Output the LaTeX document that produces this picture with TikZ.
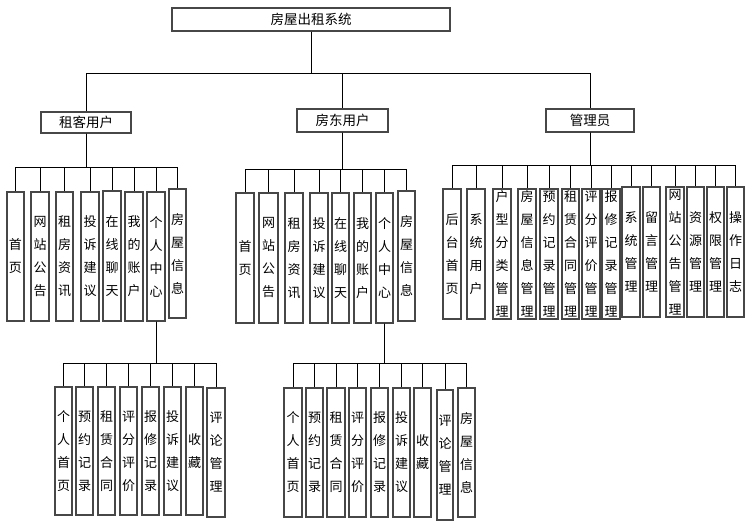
\documentclass[tikz,border=0pt]{standalone}
\usepackage{fontspec}
\newfontfamily\cjk{Noto Sans CJK SC}
\tikzset{
  vb/.style={draw=black!72, line width=1.2pt, fill=white, inner sep=0pt, align=center,
    font=\cjk\fontsize{13}{23}\selectfont},
  hb/.style={draw=black!72, line width=1.2pt, fill=white, inner sep=0pt,
    font=\cjk\fontsize{13.5}{16}\selectfont},
  conn/.style={draw=black, line width=0.9pt}
}
\newcommand{\bx}[7][vb]{\node[#1, minimum width={#4-#3}, minimum height={#6-#5}] (#2) at ({(#3+#4)/2},{(#5+#6)/2}) {#7};}
\begin{document}
\begin{tikzpicture}[x=1pt,y=-1pt]
\useasboundingbox (0,0) rectangle (752,527);
% top and level 2
\bx[hb]{top}{172}{450}{8}{31}{房屋出租系统}
\bx[hb]{ten}{41}{131}{112}{133}{租客用户}
\bx[hb]{lan}{297}{388}{109}{132}{房东用户}
\bx[hb]{adm}{546}{634}{109}{132}{管理员}
% tenant group
\bx{L1}{7}{24}{192}{321}{首\\页}
\bx{L2}{31}{49}{192}{321}{网\\站\\公\\告}
\bx{L3}{56}{73}{192}{321}{租\\房\\资\\讯}
\bx{L4}{81}{99}{192}{321}{投\\诉\\建\\议}
\bx{L5}{103}{121}{191}{321}{在\\线\\聊\\天}
\bx{L6}{125}{143}{192}{321}{我\\的\\账\\户}
\bx{L7}{147}{165}{192}{321}{个\\人\\中\\心}
\bx{L8}{169}{186}{189}{318}{房\\屋\\信\\息}
% landlord group
\bx{M1}{236}{254}{193}{323}{首\\页}
\bx{M2}{259}{278}{193}{323}{网\\站\\公\\告}
\bx{M3}{285}{303}{193}{323}{租\\房\\资\\讯}
\bx{M4}{310}{328}{193}{323}{投\\诉\\建\\议}
\bx{M5}{332}{349}{193}{323}{在\\线\\聊\\天}
\bx{M6}{354}{371}{193}{323}{我\\的\\账\\户}
\bx{M7}{376}{393}{193}{323}{个\\人\\中\\心}
\bx{M8}{398}{415}{191}{321}{房\\屋\\信\\息}
% admin group
\bx{R1}{443}{461}{189}{319}{后\\台\\首\\页}
\bx{R2}{467}{485}{189}{319}{系\\统\\用\\户}
\bx{R3}{493}{511}{189}{319}{户\\型\\分\\类\\管\\理}
\bx{R4}{518}{536}{189}{319}{房\\屋\\信\\息\\管\\理}
\bx{R5}{540}{558}{189}{319}{预\\约\\记\\录\\管\\理}
\bx{R6}{562}{579}{189}{319}{租\\赁\\合\\同\\管\\理}
\bx{R7}{582}{600}{189}{319}{评\\分\\评\\价\\管\\理}
\bx{R8}{602}{620}{189}{319}{报\\修\\记\\录\\管\\理}
\bx{R9}{622}{640}{187}{317}{系\\统\\管\\理}
\bx{R10}{643}{660}{187}{317}{留\\言\\管\\理}
\bx{R11}{666}{684}{187}{317}{网\\站\\公\\告\\管\\理}
\bx{R12}{687}{704}{187}{317}{资\\源\\管\\理}
\bx{R13}{707}{724}{187}{317}{权\\限\\管\\理}
\bx{R14}{727}{744}{187}{317}{操\\作\\日\\志}
% tenant personal center
\bx{BL1}{55}{72}{387}{515}{个\\人\\首\\页}
\bx{BL2}{76}{93}{387}{515}{预\\约\\记\\录}
\bx{BL3}{98}{115}{387}{515}{租\\赁\\合\\同}
\bx{BL4}{120}{137}{387}{515}{评\\分\\评\\价}
\bx{BL5}{142}{159}{387}{515}{报\\修\\记\\录}
\bx{BL6}{164}{181}{387}{515}{投\\诉\\建\\议}
\bx{BL7}{186}{203}{387}{515}{收\\藏}
\bx{BL8}{207}{225}{388}{517}{评\\论\\管\\理}
% landlord personal center
\bx{BM1}{284}{302}{388}{517}{个\\人\\首\\页}
\bx{BM2}{306}{323}{388}{517}{预\\约\\记\\录}
\bx{BM3}{327}{345}{388}{517}{租\\赁\\合\\同}
\bx{BM4}{349}{366}{388}{517}{评\\分\\评\\价}
\bx{BM5}{371}{388}{388}{517}{报\\修\\记\\录}
\bx{BM6}{393}{410}{388}{517}{投\\诉\\建\\议}
\bx{BM7}{414}{431}{388}{517}{收\\藏}
\bx{BM8}{437}{453}{390}{520}{评\\论\\管\\理}
\bx{BM9}{458}{475}{388}{517}{房\\屋\\信\\息}
% bus coordinates
\coordinate (Tbus) at (0,73);
\coordinate (Lbus) at (0,167);
\coordinate (Mbus) at (0,169);
\coordinate (Rbus) at (0,165);
\coordinate (BLbus) at (0,363);
\coordinate (BMbus) at (0,363);
% connectors
\foreach \c in {ten,lan,adm}
  \draw[conn] (top.south) -- (top.south |- Tbus) -| (\c.north);
\foreach \c in {L1,L2,L3,L4,L5,L6,L7,L8}
  \draw[conn] (ten.south) -- (ten.south |- Lbus) -| (\c.north);
\foreach \c in {M1,M2,M3,M4,M5,M6,M7,M8}
  \draw[conn] (lan.south) -- (lan.south |- Mbus) -| (\c.north);
\foreach \c in {R1,R2,R3,R4,R5,R6,R7,R8,R9,R10,R11,R12,R13,R14}
  \draw[conn] (adm.south) -- (adm.south |- Rbus) -| (\c.north);
\foreach \c in {BL1,BL2,BL3,BL4,BL5,BL6,BL7,BL8}
  \draw[conn] (L7.south) -- (L7.south |- BLbus) -| (\c.north);
\foreach \c in {BM1,BM2,BM3,BM4,BM5,BM6,BM7,BM8,BM9}
  \draw[conn] (M7.south) -- (M7.south |- BMbus) -| (\c.north);
\end{tikzpicture}
\end{document}
